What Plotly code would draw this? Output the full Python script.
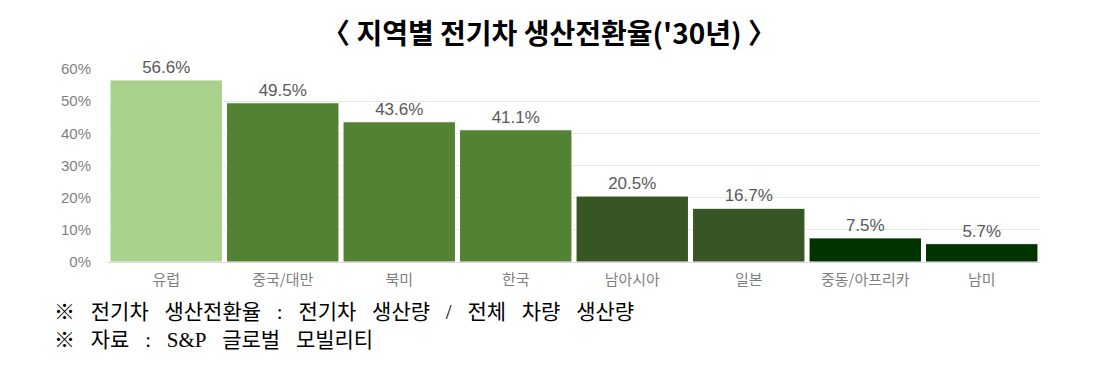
import plotly.graph_objects as go

categories = ["유럽", "중국/대만", "북미", "한국", "남아시아", "일본", "중동/아프리카", "남미"]
values = [56.6, 49.5, 43.6, 41.1, 20.5, 16.7, 7.5, 5.7]
colors = ["#A9D18E", "#548235", "#548235", "#548235", "#375623", "#375623", "#003300", "#003300"]
labels = [f"{v:.1f}%" for v in values]
tick_vals = [0, 10, 20, 30, 40, 50, 60]
tick_text = [f"{t}%" for t in tick_vals]

S = "\u00a0" * 3
note1 = f"※{S}전기차{S}생산전환율{S}:{S}전기차{S}생산량{S}/{S}전체{S}차량{S}생산량"
note2 = f"※{S}자료{S}:{S}S&P{S}글로벌{S}모빌리티"

fig = go.Figure(go.Bar(
    x=categories, y=values, marker=dict(color=colors, line=dict(color="white", width=1)),
    text=labels, textposition="outside", cliponaxis=False,
    textfont=dict(family="Liberation Sans", size=17, color="#595959"),
))

fig.update_layout(
    width=1098, height=381,
    margin=dict(l=108, r=58, t=69, b=119),
    plot_bgcolor="white", paper_bgcolor="white",
    bargap=0.035, showlegend=False,
    font=dict(family="Noto Sans CJK KR"),
    title=dict(text="<b>〈 지역별 전기차 생산전환율('30년) 〉</b>", x=0.5, xanchor="center",
               y=0.91, yanchor="middle", font=dict(family="Noto Sans CJK KR", size=28, color="black")),
    xaxis=dict(tickfont=dict(family="Noto Sans CJK KR", size=15, color="#7F7F7F"), showline=True,
               linecolor="#D9D9D9", ticks="", ticklabelstandoff=4),
    yaxis=dict(range=[0, 60], tickvals=tick_vals, ticktext=tick_text, showgrid=True, gridcolor="#E6E6E6",
               tickfont=dict(family="Liberation Sans", size=15, color="#7F7F7F"), zeroline=False,
               ticklabelstandoff=16),
)

for txt, yy in [(note1, 312), (note2, 340)]:
    fig.add_annotation(text=txt, xref="paper", yref="paper",
                       x=(52 - 108) / 932, y=(262 - yy) / 193, xanchor="left", yanchor="middle",
                       showarrow=False,
                       font=dict(family="Liberation Serif, Noto Sans CJK KR", size=21, color="black"))

fig.write_html("out.html")
